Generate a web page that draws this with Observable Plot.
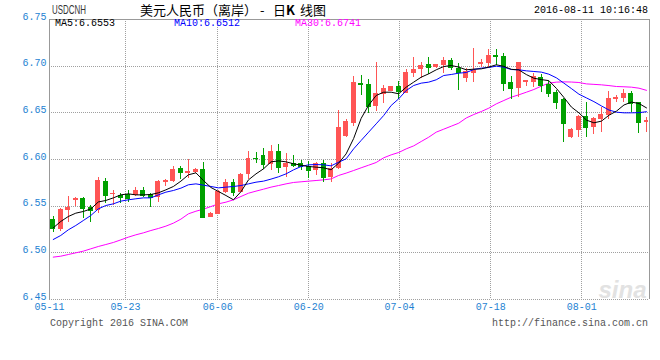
<!DOCTYPE html>
<html><head><meta charset="utf-8">
<script src="https://cdn.jsdelivr.net/npm/d3@7"></script>
<script src="https://cdn.jsdelivr.net/npm/@observablehq/plot@0.6"></script>
<style>
html,body{margin:0;padding:0;background:#fff;}
#wrap{position:relative;width:660px;height:360px;overflow:hidden;background:#fff;}
#chart{position:absolute;left:0;top:0;}
.t{position:absolute;white-space:nowrap;font-family:"Liberation Mono","DejaVu Sans Mono",monospace;font-size:10px;line-height:10px;}
.cn{font-family:'Noto Sans CJK SC',sans-serif;font-size:13px;line-height:13px;color:#000;top:3px;}
</style></head><body>
<div id="wrap">
<div id="chart"></div>
<div class="t" style="left:52px;top:4px;font-family:'Liberation Sans','DejaVu Sans',sans-serif;font-size:12px;line-height:12px;color:#333;transform:scaleX(0.66);transform-origin:left top;">USDCNH</div>
<div class="t cn" style="left:140px;">美元人民币（离岸）</div>
<div class="t cn" style="left:260px;">-</div>
<div class="t cn" style="left:273px;">日<b>K</b></div>
<div class="t cn" style="left:300px;">线图</div>
<div class="t" style="right:12px;top:6px;color:#000;">2016-08-11 10:16:48</div>
<div class="t" id="l5" style="left:55px;top:19px;color:#000;"></div>
<div class="t" id="l10" style="left:174px;top:19px;color:#0000ff;"></div>
<div class="t" id="l30" style="left:295px;top:19px;color:#ff00ff;"></div>
<div class="t" style="left:50px;top:319px;color:#555;">Copyright 2016 SINA.COM</div>
<div class="t" style="right:12px;top:319px;color:#555;">http://finance.sina.com.cn</div>
</div>
<script>
// ---- data ----
const open = [6.5357,6.5254,6.5457,6.5561,6.5582,6.5486,6.5454,6.5761,6.5621,6.5611,
6.5625,6.5611,6.5668,6.5625,6.5596,6.5754,6.5764,6.5900,6.5850,6.5864,
6.5893,6.5382,6.5411,6.5650,6.5757,6.5650,6.5836,6.6014,6.6046,6.5950,
6.6086,6.5918,6.5961,6.5954,6.5929,6.5882,6.5954,6.5804,6.5900,6.6246,
6.6389,6.6814,6.6804,6.6571,6.6696,6.6732,6.6782,6.6711,6.6925,6.6961,
6.7018,6.6982,6.7004,6.7061,6.6979,6.6871,6.6925,6.7021,6.7032,6.7111,
6.7104,6.6825,6.6764,6.6829,6.6829,6.6882,6.6800,6.6714,6.6640,6.6239,
6.6314,6.6461,6.6346,6.6432,6.6475,6.6646,6.6657,6.6711,6.6607,6.6396];
const high = [6.5389,6.5471,6.5604,6.5589,6.5596,6.5503,6.5803,6.5793,6.5668,6.5632,
6.5668,6.5696,6.5704,6.5632,6.5775,6.5782,6.5925,6.5925,6.5996,6.5900,
6.5971,6.5432,6.5668,6.5789,6.5782,6.5853,6.6089,6.6078,6.6114,6.6154,
6.6157,6.6061,6.6046,6.5989,6.5982,6.5968,6.5989,6.5954,6.6525,6.6432,
6.6889,6.6904,6.6857,6.7043,6.6789,6.6782,6.6836,6.6964,6.7096,6.7043,
6.7096,6.7018,6.7096,6.7082,6.7025,6.6971,6.7190,6.7068,6.7179,6.7179,
6.7132,6.6893,6.7043,6.6846,6.6918,6.6907,6.6836,6.6739,6.6655,6.6336,
6.6471,6.6614,6.6454,6.6556,6.6730,6.6686,6.6746,6.6729,6.6614,6.6454];
const low = [6.5221,6.5232,6.5329,6.5500,6.5371,6.5329,6.5418,6.5532,6.5507,6.5525,
6.5539,6.5604,6.5589,6.5489,6.5543,6.5714,6.5757,6.5782,6.5793,6.5846,
6.5364,6.5382,6.5407,6.5639,6.5603,6.5646,6.5786,6.5954,6.5889,6.5879,
6.5846,6.5811,6.5911,6.5882,6.5793,6.5825,6.5750,6.5757,6.5893,6.6239,
6.6354,6.6686,6.6496,6.6518,6.6604,6.6732,6.6643,6.6704,6.6882,6.6864,
6.6911,6.6971,6.6918,6.6954,6.6739,6.6825,6.6820,6.6989,6.6982,6.7007,
6.6729,6.6643,6.6668,6.6786,6.6775,6.6714,6.6668,6.6536,6.6186,6.6229,
6.6239,6.6239,6.6268,6.6293,6.6430,6.6614,6.6614,6.6500,6.6275,6.6293];
const close = [6.5257,6.5464,6.5489,6.5582,6.5479,6.5457,6.5775,6.5618,6.5632,6.5589,
6.5582,6.5668,6.5614,6.5596,6.5764,6.5775,6.5893,6.5857,6.5871,6.5893,
6.5382,6.5425,6.5657,6.5757,6.5650,6.5839,6.6014,6.6007,6.5946,6.6086,
6.5918,6.5961,6.5939,6.5929,6.5886,6.5961,6.5804,6.5907,6.6339,6.6407,
6.6825,6.6800,6.6571,6.6707,6.6761,6.6782,6.6732,6.6929,6.6964,6.7007,
6.6989,6.7018,6.7061,6.6982,6.6929,6.6940,6.6955,6.7043,6.7114,6.7104,
6.6818,6.6764,6.7036,6.6846,6.6889,6.6793,6.6711,6.6614,6.6389,6.6321,
6.6464,6.6346,6.6436,6.6482,6.6657,6.6661,6.6707,6.6596,6.6400,6.6414];
const ma5 = [6.5268,6.5336,6.5389,6.5425,6.5443,6.5470,6.5545,6.5561,6.5589,6.5621,
6.5632,6.5621,6.5621,6.5625,6.5643,6.5675,6.5711,6.5768,6.5836,6.5857,
6.5775,6.5700,6.5657,6.5614,6.5568,6.5655,6.5782,6.5846,6.5900,6.5975,
6.5985,6.5975,6.5954,6.5939,6.5925,6.5918,6.5911,6.5890,6.5960,6.6060,
6.6225,6.6440,6.6582,6.6686,6.6721,6.6721,6.6704,6.6775,6.6829,6.6882,
6.6918,6.6961,6.6996,6.7007,6.6990,6.6961,6.6968,6.6971,6.6990,6.7015,
6.6998,6.6966,6.6960,6.6910,6.6871,6.6856,6.6845,6.6762,6.6665,6.6562,
6.6500,6.6422,6.6393,6.6411,6.6474,6.6518,6.6584,6.6615,6.6600,6.6553];
const ma10 = [6.5143,6.5186,6.5246,6.5293,6.5346,6.5400,6.5471,6.5507,6.5525,6.5554,
6.5568,6.5579,6.5589,6.5589,6.5621,6.5650,6.5668,6.5693,6.5729,6.5739,
6.5725,6.5711,6.5696,6.5704,6.5711,6.5721,6.5739,6.5757,6.5768,6.5790,
6.5815,6.5846,6.5889,6.5925,6.5943,6.5946,6.5943,6.5932,6.5971,6.6007,
6.6114,6.6204,6.6293,6.6382,6.6471,6.6579,6.6650,6.6739,6.6793,6.6818,
6.6829,6.6854,6.6900,6.6911,6.6925,6.6932,6.6964,6.6979,6.6986,6.7000,
6.6989,6.6964,6.6961,6.6950,6.6943,6.6936,6.6914,6.6875,6.6818,6.6760,
6.6700,6.6660,6.6620,6.6574,6.6530,6.6507,6.6500,6.6500,6.6502,6.6512];
const ma30 = [6.4954,6.4964,6.4982,6.5000,6.5018,6.5043,6.5068,6.5089,6.5111,6.5139,
6.5168,6.5193,6.5214,6.5239,6.5261,6.5286,6.5318,6.5361,6.5418,6.5446,
6.5468,6.5496,6.5525,6.5543,6.5568,6.5604,6.5639,6.5661,6.5682,6.5704,
6.5721,6.5739,6.5754,6.5761,6.5768,6.5775,6.5782,6.5792,6.5829,6.5854,
6.5882,6.5911,6.5939,6.5968,6.6018,6.6050,6.6075,6.6114,6.6146,6.6193,
6.6239,6.6293,6.6325,6.6357,6.6389,6.6445,6.6482,6.6514,6.6550,6.6596,
6.6632,6.6668,6.6693,6.6721,6.6750,6.6786,6.6818,6.6829,6.6832,6.6830,
6.6825,6.6810,6.6805,6.6800,6.6792,6.6782,6.6779,6.6775,6.6764,6.6741];
const xTickLabels = ["05-11","05-23","06-06","06-20","07-04","07-18","08-01"];
const xTickPos = [-0.5, 9.62, 21.91, 34.03, 46.11, 58.27, 70.39];
const yTicks = [6.45, 6.50, 6.55, 6.60, 6.65, 6.70, 6.75];

const candles = close.map((c, i) => ({
  i, open: open[i], high: high[i], low: low[i], close: c,
  ma5: ma5[i], ma10: ma10[i], ma30: ma30[i]
}));
const up = candles.filter(d => d.close >= d.open);
const down = candles.filter(d => d.close < d.open);
const RED = "#ff5555", GREEN = "#00a000", GRID = "#a0a0a0", FRAME = "#999999", BLUE = "#1e82d2";
const MONO = "'Liberation Mono','DejaVu Sans Mono',monospace";
const hw = 0.33;

document.getElementById("l5").textContent = "MA5:" + ma5[ma5.length-1].toFixed(4);
document.getElementById("l10").textContent = "MA10:" + ma10[ma10.length-1].toFixed(4);
document.getElementById("l30").textContent = "MA30:" + ma30[ma30.length-1].toFixed(4);

const chart = Plot.plot({
  width: 660, height: 340,
  marginLeft: 49, marginRight: 11, marginTop: 19, marginBottom: 41,
  x: {domain: [-0.5, 79.4], axis: null},
  y: {domain: [6.45, 6.75], axis: null},
  style: {background: "transparent", overflow: "visible"},
  marks: [
    Plot.text(["sina"], {frameAnchor: "bottom-right", text: d => d, textAnchor: "end", lineAnchor: "bottom", dx: -3, dy: -2,
      fill: "#e2e2e2", fontSize: 24, fontWeight: "bold", fontStyle: "italic", fontFamily: "'Liberation Sans',sans-serif"}),
    Plot.ruleY(yTicks.slice(0, -1), {y: d => d, stroke: GRID, strokeDasharray: "1,1", shapeRendering: "crispEdges"}),
    Plot.ruleX(xTickPos.slice(1), {x: d => d, stroke: GRID, strokeDasharray: "1,1", shapeRendering: "crispEdges"}),
    Plot.ruleX([-0.5, 79.4], {x: d => d, stroke: FRAME, shapeRendering: "crispEdges"}),
    Plot.ruleY([6.75], {y: d => d, stroke: FRAME, shapeRendering: "crispEdges"}),
    Plot.line(candles, {x: "i", y: "ma30", stroke: "#ff00ff", strokeWidth: 1}),
    Plot.ruleX(up, {x: "i", y1: "low", y2: "high", stroke: RED, shapeRendering: "crispEdges"}),
    Plot.ruleX(down, {x: "i", y1: "low", y2: "high", stroke: GREEN, shapeRendering: "crispEdges"}),
    Plot.rect(up, {x1: d => d.i - hw, x2: d => d.i + hw, y1: "open", y2: "close", fill: RED, shapeRendering: "crispEdges"}),
    Plot.rect(down, {x1: d => d.i - hw, x2: d => d.i + hw, y1: "open", y2: "close", fill: GREEN, shapeRendering: "crispEdges"}),
    Plot.ruleY(up, {y: "close", x1: d => d.i - hw, x2: d => d.i + hw, stroke: RED, shapeRendering: "crispEdges"}),
    Plot.ruleY(down, {y: "close", x1: d => d.i - hw, x2: d => d.i + hw, stroke: GREEN, shapeRendering: "crispEdges"}),
    Plot.line(candles, {x: "i", y: "ma10", stroke: "#0000ff", strokeWidth: 1}),
    Plot.line(candles, {x: "i", y: "ma5", stroke: "#000000", strokeWidth: 1}),
    Plot.text(yTicks, {frameAnchor: "left", y: d => d, text: d => d.toFixed(2), textAnchor: "end", dx: -3, dy: -3,
      fill: BLUE, fontSize: 10, fontFamily: MONO}),
    Plot.text(xTickPos, {x: d => d, frameAnchor: "bottom", text: (d, i) => xTickLabels[i], dy: 10,
      fill: BLUE, fontSize: 10, fontFamily: MONO})
  ]
});
document.getElementById("chart").appendChild(chart);
</script>
</body></html>
